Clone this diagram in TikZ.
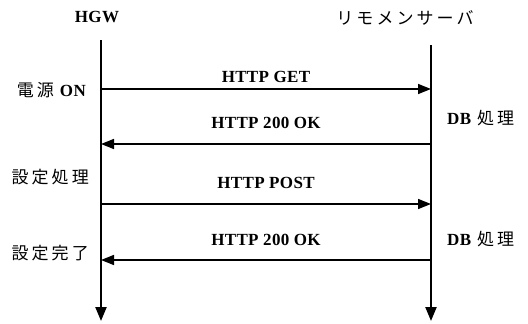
\documentclass[tikz,border=0pt]{standalone}
\usepackage{fontspec}
\setmainfont[LetterSpace=2]{Liberation Serif}
\newfontfamily\jpfont[LetterSpace=18, BoldFont={Noto Sans CJK JP}]{Noto Sans CJK JP}
\usetikzlibrary{arrows.meta}
\tikzset{
    life-line/.style = {line width=2.2pt, -{Triangle[length=14pt,width=11pt]}},
    msg-arrow/.style = {line width=1.5pt, -{Triangle[length=13pt,width=10pt]}},
    msg-label/.style = {font=\fontsize{17}{20}\selectfont\bfseries, inner sep=0pt},
    side-label/.style = {font=\fontsize{17}{20}\selectfont\bfseries, inner sep=0pt},
}

\begin{document}
\begin{tikzpicture}[x=1pt, y=-1pt]
\path[use as bounding box] (0,0) rectangle (528,324);

% lifelines
\coordinate (hgw-top) at (101,40);
\coordinate (hgw-end) at (101,321);
\coordinate (srv-top) at (431,45);
\coordinate (srv-end) at (431,321);
\node[side-label] (hgw) at (97,17) {HGW};
\node[side-label] (srv) at (405,18) {\jpfont リモメンサーバ};
\draw[life-line] (hgw-top) -- (hgw-end);
\draw[life-line] (srv-top) -- (srv-end);

% messages
\coordinate (hgw-1) at (101,89);  \coordinate (srv-1) at (431,89);
\coordinate (hgw-2) at (101,144); \coordinate (srv-2) at (431,144);
\coordinate (hgw-3) at (101,204); \coordinate (srv-3) at (431,204);
\coordinate (hgw-4) at (101,260); \coordinate (srv-4) at (431,260);
\draw[msg-arrow] (hgw-1) -- (srv-1);
\draw[msg-arrow] (srv-2) -- (hgw-2);
\draw[msg-arrow] (hgw-3) -- (srv-3);
\draw[msg-arrow] (srv-4) -- (hgw-4);
\node[msg-label] (get) at (266,77) {HTTP GET};
\node[msg-label] (ok-1) at (266,123) {HTTP 200 OK};
\node[msg-label] (post) at (266,183) {HTTP POST};
\node[msg-label] (ok-2) at (266,240) {HTTP 200 OK};

% side notes
\node[side-label, anchor=east] (power) at (86,90) {{\jpfont 電源}\hspace{6pt}ON};
\node[side-label, anchor=east] (setup) at (89,177) {\jpfont 設定処理};
\node[side-label, anchor=east] (done) at (89,253) {\jpfont 設定完了};
\node[side-label, anchor=west] (db-1) at (447,118) {DB\hspace{6pt}{\jpfont 処理}};
\node[side-label, anchor=west] (db-2) at (447,239) {DB\hspace{6pt}{\jpfont 処理}};
\end{tikzpicture}
\end{document}
